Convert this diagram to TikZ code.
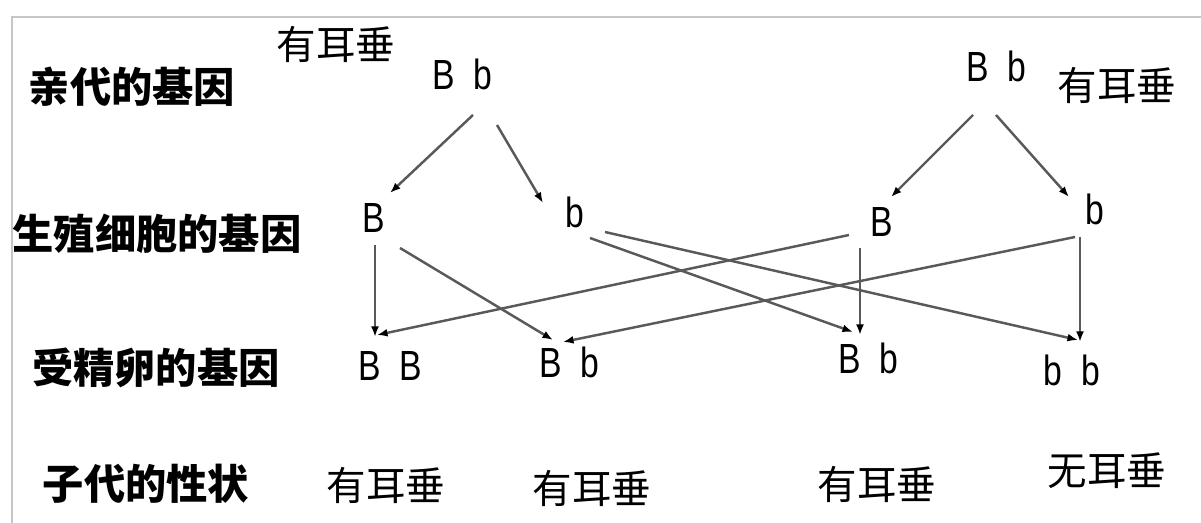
\documentclass[tikz,border=0pt]{standalone}
\usepackage{fontspec}
\setmainfont{Liberation Sans}
\newfontfamily\cjk{Noto Sans CJK SC}
\newfontfamily\genefont[FakeStretch=0.8]{Liberation Sans}
\usepackage{tikz}
\usetikzlibrary{arrows.meta,calc}

\tikzset{
  rowlabel/.style={font=\cjk\bfseries\fontsize{23.5}{24}\selectfont, inner sep=0pt},
  trait/.style={font=\cjk\fontsize{22.5}{24}\selectfont, inner sep=0pt},
  gene/.style={font=\genefont\fontsize{24}{26}\selectfont, inner sep=0pt},
  arr/.style={draw=gray!70!black, line width=1.4pt, -{Latex[length=6pt,width=4.5pt,color=black]}}
}

\begin{document}
\begin{tikzpicture}[x=0.02cm, y=-0.02cm]
            \useasboundingbox (0,0) rectangle (1201,523);
            % Frame
            \draw[gray!45, line width=1.1pt] (12,523) -- (12,17) -- (1201,17);

            % Row labels
            \node[rowlabel] (lbl0) at (132,87) {亲代的基因};
            \node[rowlabel] (lbl1) at (157,234) {生殖细胞的基因};
            \node[rowlabel] (lbl2) at (156,368) {受精卵的基因};
            \node[rowlabel] (lbl3) at (146,484) {子代的性状};

            % Parents
            \node[gene] (p1) at (462,74) {B\ \ b};
            \node[trait] (ph1) at (336,44) {有耳垂};
            \node[gene] (p2) at (996,66) {B\ \ b};
            \node[trait] (ph2) at (1117,85) {有耳垂};

            % Gametes
            \node[gene] (g1) at (374,218) {B};
            \node[gene] (g2) at (575,212) {b};
            \node[gene] (g3) at (882,222) {B};
            \node[gene] (g4) at (1095,209) {b};

            % Zygotes
            \node[gene] (z1) at (390,366) {B\ \ B};
            \node[gene] (z2) at (569,362) {B\ \ b};
            \node[gene] (z3) at (868,358) {B\ \ b};
            \node[gene] (z4) at (1072,370) {b\ \ b};

            % Offspring
            \node[trait] (o1) at (386,485) {有耳垂};
            \node[trait] (o2) at (592,488) {有耳垂};
            \node[trait] (o3) at (877,484) {有耳垂};
            \node[trait] (o4) at (1107,471) {无耳垂};

            % Parents to gametes
            \draw[arr] ($(p1)+(11,41)$) -- ($(g1)+(16,-25)$);
            \draw[arr] ($(p1)+(35,51)$) -- ($(g2)+(-32,-9)$);
            \draw[arr] ($(p2)+(-23,49)$) -- ($(g3)+(9,-25)$);
            \draw[arr] ($(p2)+(0,49)$) -- ($(g4)+(-26,-12)$);

            % Gametes to zygotes
            \draw[arr] ($(g1)+(1,27)$) -- ($(z1)+(-15,-29)$);
            \draw[arr] ($(g1)+(26,30)$) -- ($(z2)+(-16,-22)$);
            \draw[arr] ($(g2)+(15,26)$) -- ($(z3)+(-15,-26)$);
            \draw[arr] ($(g2)+(30,20)$) -- ($(z4)+(6,-30)$);
            \draw[arr] ($(g3)+(-22,26)$) -- ($(z3)+(-8,-23)$);
            \draw[arr] ($(g3)+(-33,13)$) -- ($(z1)+(-13,-31)$);
            \draw[arr] ($(g4)+(-15,28)$) -- ($(z4)+(8,-28)$);
            \draw[arr] ($(g4)+(-20,28)$) -- ($(z2)+(-6,-20)$);
        \end{tikzpicture}
\end{document}
